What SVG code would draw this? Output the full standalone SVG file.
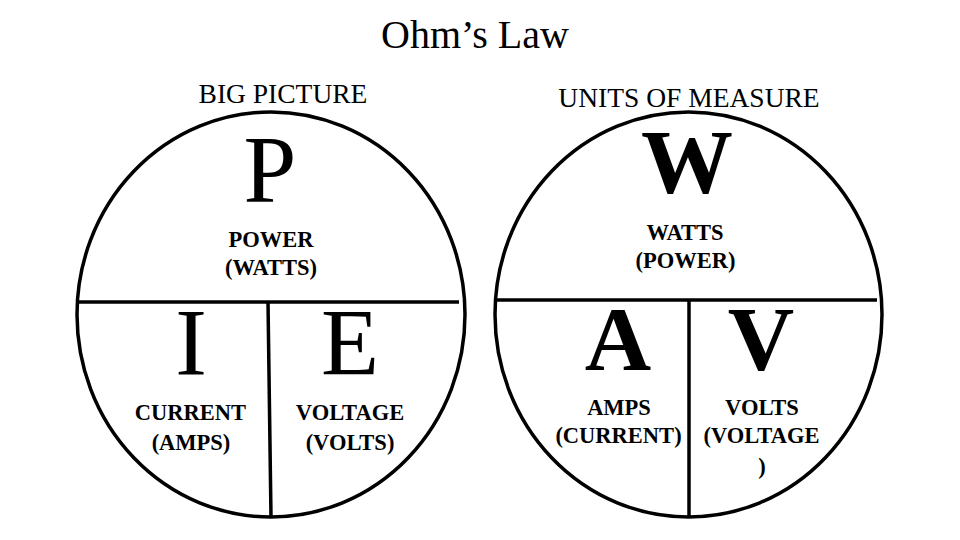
<svg xmlns="http://www.w3.org/2000/svg" width="960" height="540" viewBox="0 0 960 540">
<style>
text{font-family:"Liberation Serif","Times New Roman",serif;fill:#000;text-anchor:middle}
.title{font-size:40px}
.head{font-size:27.5px}
.big{font-size:95px}
.bigb{font-size:92px;font-weight:bold}
.lbl{font-size:22.5px;font-weight:bold}
.shape{fill:none;stroke:#000;stroke-width:3.5}
</style>
<rect width="960" height="540" fill="#fff"/>
<text class="title" x="475" y="48">Ohm’s Law</text>
<g id="big-picture">
  <text class="head" x="283" y="103">BIG PICTURE</text>
  <ellipse class="shape" cx="271" cy="314.5" rx="194" ry="202.5"/>
  <g id="lines-left">
    <line class="shape" x1="77" y1="302" x2="459" y2="302" stroke-width="4"/>
    <line class="shape" x1="268" y1="302" x2="271" y2="517" stroke-width="4"/>
  </g>
  <g id="node-P"><text class="big" x="270" y="202">P</text>
    <text class="lbl" x="271" y="247">POWER</text>
    <text class="lbl" x="271" y="275">(WATTS)</text></g>
  <g id="node-I"><text class="big" x="191" y="375">I</text>
    <text class="lbl" x="190.5" y="420">CURRENT</text>
    <text class="lbl" x="191" y="450">(AMPS)</text></g>
  <g id="node-E"><text class="big" x="350" y="375">E</text>
    <text class="lbl" x="350" y="420">VOLTAGE</text>
    <text class="lbl" x="350" y="450">(VOLTS)</text></g>
</g>
<g id="units">
  <text class="head" x="689" y="107">UNITS OF MEASURE</text>
  <ellipse class="shape" cx="688.5" cy="314.5" rx="193.5" ry="202.5"/>
  <g id="lines-right">
    <line class="shape" x1="495" y1="300" x2="877" y2="300" stroke-width="4"/>
    <line class="shape" x1="689" y1="300" x2="689" y2="517" stroke-width="4"/>
  </g>
  <g id="node-W"><text class="bigb" x="687" y="193">W</text>
    <text class="lbl" x="685" y="240">WATTS</text>
    <text class="lbl" x="685.5" y="268">(POWER)</text></g>
  <g id="node-A"><text class="bigb" x="618" y="370">A</text>
    <text class="lbl" x="619" y="415">AMPS</text>
    <text class="lbl" x="618.5" y="443">(CURRENT)</text></g>
  <g id="node-V"><text class="bigb" x="761" y="370">V</text>
    <text class="lbl" x="762" y="415">VOLTS</text>
    <text class="lbl" x="761.5" y="443">(VOLTAGE</text>
    <text class="lbl" x="762" y="474">)</text></g>
</g>
</svg>
